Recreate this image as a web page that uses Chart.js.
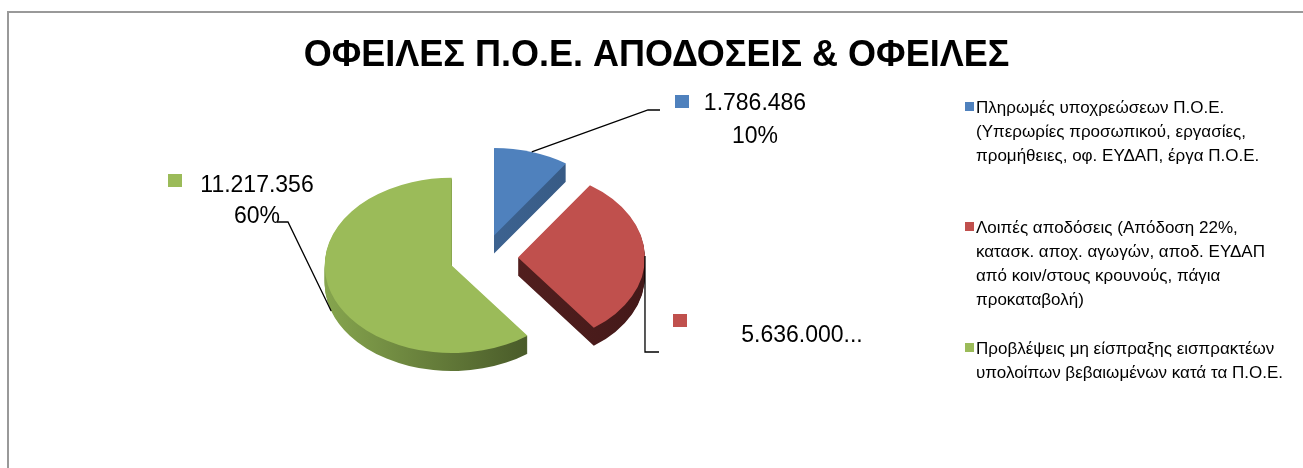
<!DOCTYPE html>
<html>
<head>
<meta charset="utf-8">
<script src="https://cdn.jsdelivr.net/npm/chart.js@4.4.1/dist/chart.umd.min.js"></script>
<style>
    html, body { margin: 0; padding: 0; background: #fff; }
    #wrap { position: relative; width: 1303px; height: 468px; overflow: hidden; }
    #frame { position: absolute; left: 7px; top: 11px; width: 1400px; height: 600px;
             border-top: 2px solid #999; border-left: 2px solid #999; }
    #chart { position: absolute; left: 0; top: 0; }
    #legend { position: absolute; left: 0; top: 0; font-family: 'Liberation Sans', Arial, sans-serif;
              font-size: 17px; line-height: 24px; color: #000; }
    .item { position: absolute; left: 965px; }
    .sw { position: absolute; left: 0; width: 9px; height: 9px; }
    .txt { position: absolute; left: 11px; top: 0; white-space: nowrap; }
</style>
</head>
<body>
<div id="wrap">
    <div id="frame"></div>
    <canvas id="chart" width="1303" height="468"></canvas>
    <div id="legend"></div>
</div>
<script>
// δεδομένα
const categories = [
    ['Πληρωμές υποχρεώσεων Π.Ο.Ε.', '(Υπερωρίες προσωπικού, εργασίες,', 'προμήθειες, οφ. ΕΥΔΑΠ, έργα Π.Ο.Ε.'],
    ['Λοιπές αποδόσεις (Απόδοση 22%,', 'κατασκ. αποχ. αγωγών, αποδ. ΕΥΔΑΠ', 'από κοιν/στους κρουνούς, πάγια', 'προκαταβολή)'],
    ['Προβλέψεις μη είσπραξης εισπρακτέων', 'υπολοίπων βεβαιωμένων κατά τα Π.Ο.Ε.']
];
const values = [1786486, 5636000, 11217356];
const truncated = [false, true, false];
const title = 'ΟΦΕΙΛΕΣ Π.Ο.Ε. ΑΠΟΔΟΣΕΙΣ & ΟΦΕΙΛΕΣ';

const colors = ['#4F81BD', '#C0504D', '#9BBB59'];
const sideColors = [['#4570a3', '#34557d'], ['#5e2423', '#441919'], ['#86a54e', '#3a4820']];

// 3D εμφάνιση
const TILT = 0.69, DEPTH = 18, EXPLODE = 34;
const PIE_X = 484, PIE_Y = 258;

// θέσεις ετικετών
const labelBoxes = [
    { sq: [675, 95], cx: 755, lines: [110, 143], path: [[648, 110], [660, 110]] },
    { sq: [673, 314], cx: 802, lines: [342], path: [[645, 352], [659, 352]] },
    { sq: [168, 174], cx: 257, lines: [192, 223], path: [[288, 222], [277, 222]] }
];
const legendTops = [96, 216, 337];

function fmt(n) {
    return String(n).replace(/\B(?=(\d{3})+(?!\d))/g, '.');
}

function place(ctx, arc, d) {
    const mid = (arc.startAngle + arc.endAngle) / 2;
    ctx.translate(PIE_X + Math.cos(mid) * EXPLODE, PIE_Y + Math.sin(mid) * EXPLODE * TILT + d);
    ctx.scale(1, TILT);
    ctx.translate(-arc.x, -arc.y);
}

function toScreen(arc, ang, r, d) {
    const mid = (arc.startAngle + arc.endAngle) / 2;
    return {
        x: PIE_X + Math.cos(mid) * EXPLODE + Math.cos(ang) * r,
        y: PIE_Y + (Math.sin(mid) * EXPLODE + Math.sin(ang) * r) * TILT + d
    };
}

const pie3d = {
    id: 'pie3d',
    beforeDatasetsDraw(chart) {
        const ctx = chart.ctx;
        const arcs = chart.getDatasetMeta(0).data;
        // πλευρές
        arcs.forEach((arc, i) => {
            const g = ctx.createLinearGradient(arc.x - arc.outerRadius, 0, arc.x + arc.outerRadius, 0);
            g.addColorStop(0, sideColors[i][0]);
            g.addColorStop(1, sideColors[i][1]);
            const side = Object.create(arc);
            side.options = Object.assign({}, arc.options, { backgroundColor: g, borderWidth: 0 });
            for (let d = DEPTH; d > 0; d--) {
                ctx.save();
                place(ctx, arc, d);
                side.draw(ctx);
                ctx.restore();
            }
        });
        // επάνω επιφάνεια
        arcs.forEach(arc => {
            ctx.save();
            place(ctx, arc, 0);
            arc.draw(ctx);
            ctx.restore();
        });
        return false;
    },
    afterDraw(chart) {
        const ctx = chart.ctx;
        const arcs = chart.getDatasetMeta(0).data;
        const total = values.reduce((a, b) => a + b, 0);
        ctx.save();
        arcs.forEach((arc, i) => {
            const box = labelBoxes[i];
            const mid = (arc.startAngle + arc.endAngle) / 2;
            const p = toScreen(arc, mid, arc.outerRadius, Math.sin(mid) > 0.1 ? DEPTH : 0);

            ctx.strokeStyle = '#000';
            ctx.lineWidth = 1.3;
            ctx.beginPath();
            ctx.moveTo(p.x, p.y);
            box.path.forEach(pt => ctx.lineTo(pt[0], pt[1]));
            ctx.stroke();

            ctx.fillStyle = colors[i];
            ctx.fillRect(box.sq[0], box.sq[1], 14, 13);

            ctx.fillStyle = '#000';
            ctx.font = '23px "Liberation Sans", Arial, sans-serif';
            ctx.textAlign = 'center';
            ctx.textBaseline = 'alphabetic';
            const pct = Math.round(values[i] / total * 100) + '%';
            const texts = truncated[i] ? [fmt(values[i]) + '...'] : [fmt(values[i]), pct];
            texts.forEach((t, k) => ctx.fillText(t, box.cx, box.lines[k]));
        });
        ctx.restore();
    }
};

new Chart(document.getElementById('chart'), {
    type: 'pie',
    data: {
        labels: categories,
        datasets: [{
            data: values,
            backgroundColor: colors,
            borderWidth: 0,
            radius: 127
        }]
    },
    options: {
        responsive: false,
        animation: false,
        layout: { padding: { left: 10 } },
        plugins: {
            legend: { display: false },
            tooltip: { enabled: false },
            title: {
                display: true,
                text: title,
                color: '#000',
                font: { family: "'Liberation Sans', Arial, sans-serif", size: 36, weight: 'bold', lineHeight: 1.2 },
                padding: { top: 34, bottom: 10 }
            }
        }
    },
    plugins: [pie3d]
});

// υπόμνημα
const legend = document.getElementById('legend');
categories.forEach((lines, i) => {
    const item = document.createElement('div');
    item.className = 'item';
    item.style.top = legendTops[i] + 'px';
    const sw = document.createElement('div');
    sw.className = 'sw';
    sw.style.top = '6px';
    sw.style.background = colors[i];
    const txt = document.createElement('div');
    txt.className = 'txt';
    txt.innerHTML = lines.join('<br>');
    item.appendChild(sw);
    item.appendChild(txt);
    legend.appendChild(item);
});
</script>
</body>
</html>
